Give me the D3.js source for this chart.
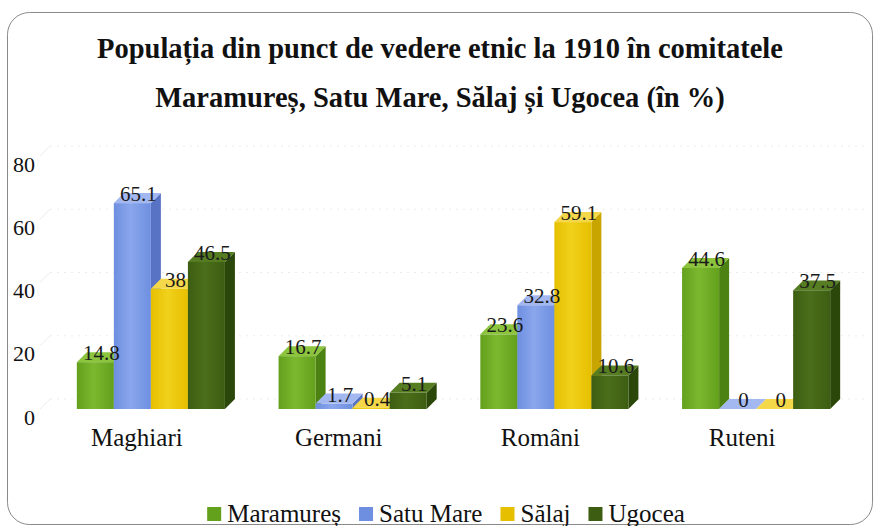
<!DOCTYPE html>
<html>
<head>
<meta charset="utf-8">
<script src="https://cdn.jsdelivr.net/npm/d3@7"></script>
<style>
  body { margin: 0; background: #fff; }
</style>
</head>
<body>
<div id="chart"></div>
<script>
// date
const categories = ['Maghiari', 'Germani', 'Români', 'Ruteni']
const seriesNames = ['Maramureș', 'Satu Mare', 'Sălaj', 'Ugocea']
const maramures = [14.8, 16.7, 23.6, 44.6]
const satuMare = [65.1, 1.7, 32.8, 0]
const salaj = [38, 0.4, 59.1, 0]
const ugocea = [46.5, 5.1, 10.6, 37.5]
const yTicks = [0, 20, 40, 60, 80]
const titleLines = [
  'Populația din punct de vedere etnic la 1910 în comitatele',
  'Maramureș, Satu Mare, Sălaj și Ugocea (în %)'
]

const seriesValues = [maramures, satuMare, salaj, ugocea]

// culori pe fețe: fata, sus, lateral
const palette = [
  { front: '#63a01c', light: '#7cb82f', top: '#8cc43e', side: '#4c8212' },
  { front: '#6e8fe0', light: '#8aa6ec', top: '#a3b8f0', side: '#5873c4' },
  { front: '#e6bf00', light: '#f1d11c', top: '#f4d84a', side: '#c9a500' },
  { front: '#3d5e12', light: '#4a6e1a', top: '#567d22', side: '#2c470a' }
]

const serif = "'Liberation Serif', 'Times New Roman', serif"
const width = 878
const height = 526
const dx = 10
const dy = -10

const svg = d3.select('#chart')
  .append('svg')
  .attr('width', width)
  .attr('height', height)
  .style('font-family', serif)

// gradiente pentru fata barelor
const defs = svg.append('defs')
palette.forEach((p, i) => {
  const g = defs.append('linearGradient')
    .attr('id', `grad${i}`)
    .attr('x1', '0').attr('x2', '1').attr('y1', '0').attr('y2', '0')
  g.append('stop').attr('offset', '0%').attr('stop-color', p.front)
  g.append('stop').attr('offset', '45%').attr('stop-color', p.light)
  g.append('stop').attr('offset', '100%').attr('stop-color', p.front)
})

// chenarul exterior
svg.append('rect')
  .attr('x', 7.5)
  .attr('y', 12.5)
  .attr('width', 865)
  .attr('height', 512)
  .attr('rx', 22)
  .attr('fill', '#fff')
  .attr('stroke', '#8a8a8a')
  .attr('stroke-width', 1)

const title = svg.append('g')
title.selectAll('text')
  .data(titleLines)
  .enter().append('text')
    .attr('x', 440)
    .attr('y', (d, i) => 58 + i * 49)
    .attr('text-anchor', 'middle')
    .style('font-family', serif)
    .style('font-weight', 'bold')
    .style('font-size', '28.5px')
    .attr('fill', '#111')
    .text(d => d)

const x = d3.scaleBand()
  .domain(categories)
  .range([50, 857])
  .paddingInner(0.266)
  .paddingOuter(0.133)

const xs = d3.scaleBand()
  .domain(seriesNames)
  .range([0, x.bandwidth()])

const y = d3.scaleLinear()
  .domain([0, 80])
  .range([409, 156])

// linii de grilă pe peretele din spate
svg.append('g')
  .selectAll('line')
  .data(yTicks)
  .enter().append('line')
    .attr('x1', 40 + dx)
    .attr('x2', 857 + dx)
    .attr('y1', d => y(d) + dy)
    .attr('y2', d => y(d) + dy)
    .attr('stroke', '#ececec')
    .attr('stroke-dasharray', '2,5')

svg.append('g')
  .selectAll('line')
  .data(yTicks)
  .enter().append('line')
    .attr('x1', 40)
    .attr('x2', 40 + dx)
    .attr('y1', d => y(d))
    .attr('y2', d => y(d) + dy)
    .attr('stroke', '#ececec')

// etichete axa Y
svg.append('g')
  .selectAll('text')
  .data(yTicks)
  .enter().append('text')
    .attr('x', 35)
    .attr('y', d => y(d) + 8)
    .attr('text-anchor', 'end')
    .attr('dominant-baseline', 'central')
    .style('font-family', serif)
    .style('font-size', '22px')
    .attr('fill', '#111')
    .text(d => d)

// bare 3D, de la stânga la dreapta
const bars = []
categories.forEach((cat, ci) => {
  seriesNames.forEach((s, si) => {
    bars.push({ cat, s, si, value: seriesValues[si][ci] })
  })
})

const barG = svg.append('g')
bars.forEach(b => {
  const x0 = x(b.cat) + xs(b.s)
  const w = xs.bandwidth()
  const yt = y(b.value)
  const yb = y(0)
  const p = palette[b.si]
  const g = barG.append('g')
  g.append('polygon')
    .attr('points', [[x0 + w, yt], [x0 + w + dx, yt + dy], [x0 + w + dx, yb + dy], [x0 + w, yb]].join(' '))
    .attr('fill', p.side)
  g.append('polygon')
    .attr('points', [[x0, yt], [x0 + w, yt], [x0 + w + dx, yt + dy], [x0 + dx, yt + dy]].join(' '))
    .attr('fill', p.top)
  g.append('rect')
    .attr('x', x0)
    .attr('y', yt)
    .attr('width', w)
    .attr('height', yb - yt)
    .attr('fill', `url(#grad${b.si})`)
})

// etichete valori
svg.append('g')
  .selectAll('text')
  .data(bars)
  .enter().append('text')
    .attr('x', d => x(d.cat) + xs(d.s) + xs.bandwidth() / 2 + 6)
    .attr('y', d => y(d.value) - 2)
    .attr('text-anchor', 'middle')
    .style('font-family', serif)
    .style('font-size', '21px')
    .attr('fill', '#1a1a1a')
    .text(d => d.value)

// etichete categorii
svg.append('g')
  .selectAll('text')
  .data(categories)
  .enter().append('text')
    .attr('x', d => x(d) + x.bandwidth() / 2 - 14)
    .attr('y', 437)
    .attr('text-anchor', 'middle')
    .attr('dominant-baseline', 'central')
    .style('font-family', serif)
    .style('font-size', '25px')
    .attr('fill', '#111')
    .text(d => d)

// legenda
const legend = svg.append('g')
const items = legend.selectAll('g')
  .data(seriesNames)
  .enter().append('g')
items.append('rect')
  .attr('width', 14)
  .attr('height', 14)
  .attr('y', -6)
  .attr('fill', (d, i) => palette[i].front)
items.append('text')
  .attr('x', 20)
  .attr('dominant-baseline', 'central')
  .style('font-family', serif)
  .style('font-size', '25px')
  .attr('fill', '#111')
  .text(d => d)

let offset = 0
items.each(function () {
  const tw = d3.select(this).select('text').node().getComputedTextLength()
  d3.select(this).attr('data-off', offset)
  offset += 20 + tw + 18
})
offset -= 18
const start = 446 - offset / 2
items.attr('transform', function () {
  return `translate(${start + (+d3.select(this).attr('data-off'))}, 513)`
})
</script>
</body>
</html>
